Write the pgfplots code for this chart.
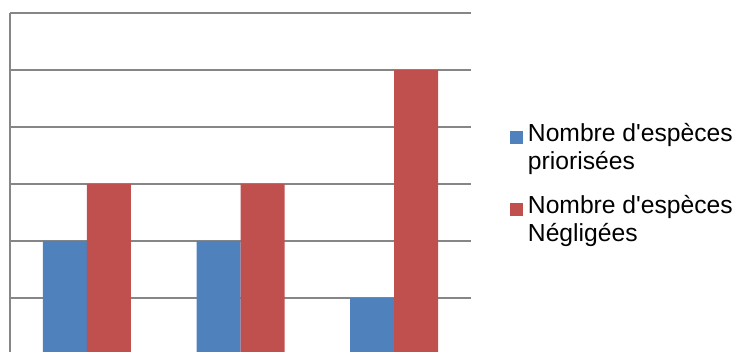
\documentclass[border=0pt]{standalone}
\usepackage{pgfplots}
\pgfplotsset{compat=1.18}
\usepackage{fontspec}
\setmainfont{Liberation Sans}
\definecolor{barblue}{HTML}{4F81BD}
\definecolor{barred}{HTML}{C0504D}
\definecolor{gridgray}{HTML}{868686}
\begin{document}
\begin{tikzpicture}
\useasboundingbox (0pt,0pt) rectangle (552.75pt,264pt);
\clip (0pt,0pt) rectangle (552.75pt,264pt);
\begin{axis}[
  at={(7.5pt,-2.25pt)}, anchor=south west,
  scale only axis, width=345.75pt, height=256.5pt,
  xmin=-0.5, xmax=2.5, ymin=0, ymax=6,
  ybar=0pt, bar width=33pt,
  xtick=\empty, ytick={0,1,...,6}, yticklabels={},
  major tick length=0pt,
  axis x line=bottom, axis y line=left,
  axis line style={-, draw=gridgray, line width=1.3pt},
  ymajorgrids, grid style={draw=gridgray, line width=1.3pt},
  legend cell align=left,
  legend image code/.code={\fill[#1] (0pt,2.5pt) rectangle (9.75pt,12.25pt);},
  legend style={at={(1.0846,0.686)}, anchor=north west, draw=none, fill=none,
    inner sep=0pt, row sep=14pt, column sep=1.5pt,
    font=\fontsize{18.5}{21}\selectfont,
    cells={inner sep=0pt, align=left}},
]
\addplot[fill=barblue, draw=none] coordinates {(0,2) (1,2) (2,1)};
\addplot[fill=barred, draw=none] coordinates {(0,3) (1,3) (2,5)};
\legend{Nombre d\textquotesingle esp\`eces\\prioris\'ees, Nombre d\textquotesingle esp\`eces\\N\'eglig\'ees}
\end{axis}
\end{tikzpicture}
\end{document}
